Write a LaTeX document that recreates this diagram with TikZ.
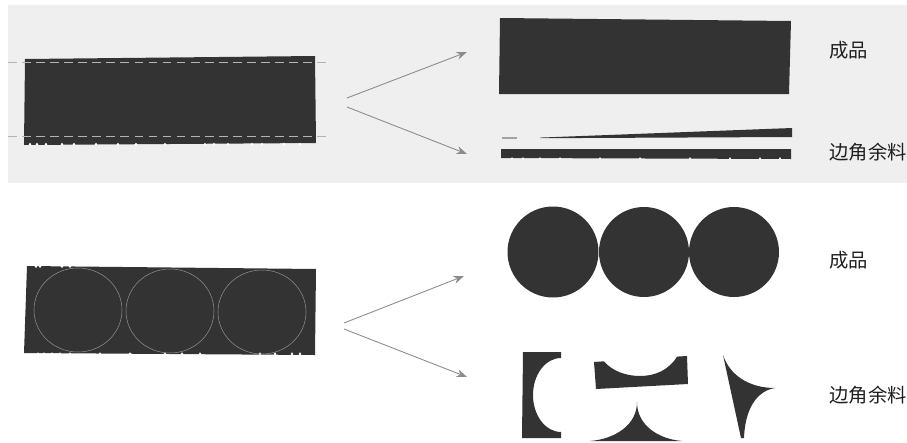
\documentclass[tikz,border=0pt]{standalone}
\usepackage{fontspec}
\newfontfamily\cjk{Noto Sans CJK SC}
\usetikzlibrary{arrows.meta}
\definecolor{ink}{HTML}{333333}
\definecolor{bgtop}{HTML}{EFEFEF}
\definecolor{arr}{HTML}{8C8C8C}
\definecolor{cutc}{HTML}{B4B4B4}
\begin{document}
\begin{tikzpicture}[x=0.02cm,y=-0.02cm,
  piece/.style={fill=ink},
  cutline/.style={draw=cutc, dashed, dash pattern=on 5pt off 3pt, line width=0.35pt},
  circcut/.style={draw=white!45!ink, line width=0.3pt},
  flow/.style={draw=arr, line width=0.5pt, -{Stealth[length=6pt,width=4.5pt]}},
  lab/.style={font=\cjk\fontsize{11}{13}\selectfont, anchor=west, inner sep=0pt, text=black!88},
  notch/.style={fill=white}]
\useasboundingbox (0,0) rectangle (907,443);
% top background
\fill[bgtop] (8,5) rectangle (907,183);

% ---------- top row ----------
\fill[piece] (25,59) -- (315,56) -- (316,143) -- (24,145) -- cycle;
\foreach \x in {30,37,46,62,74,96,118,136,165,205,214,228,252,262,284,300}
  \fill[notch] (\x,144.3) ellipse (1.3 and 1.6);
\draw[cutline] (8,62) -- (330,62);
\draw[cutline] (8,136) -- (330,136);

\coordinate (s1) at (347,98);
\coordinate (s2) at (347,107);
\coordinate (p1) at (467,52);
\coordinate (w1) at (467,154);
\draw[flow] (s1) -- (p1);
\draw[flow] (s2) -- (w1);

\fill[piece] (500,18) -- (791,21) -- (789,94) -- (499,94) -- cycle;
\draw[arr!80, line width=0.7pt] (502,138) -- (517,138);
\fill[piece] (540,137.6) -- (792,128) -- (792,137) -- (540,138.2) -- cycle;
\fill[piece] (501,149) -- (791,149) -- (791,159) -- (501,158) -- cycle;
\foreach \x in {512,523,540,560,600,640,690,730,760,780}
  \fill[notch] (\x,158.4) ellipse (1 and 1.2);

\node[lab] (t1) at (829,50) {成品};
\node[lab] (t2) at (829,152.5) {边角余料};

% ---------- bottom row ----------
\fill[piece] (27,266) -- (316,269) -- (315,355) -- (24,353) -- cycle;
\foreach \x in {38,44,52,60,70,100,130,165,182,200,260,275,292,300}
  \fill[notch] (\x,354) ellipse (1.4 and 1.6);
\foreach \x in {36,40,62,70}
  \fill[notch] (\x,266.5) ellipse (1.3 and 1.5);
\draw[circcut] (78,310) ellipse (44 and 42);
\draw[circcut] (170,311) ellipse (44 and 42);
\draw[circcut] (262,312) ellipse (44 and 42);

\coordinate (s3) at (344,323);
\coordinate (s4) at (344,329);
\coordinate (p2) at (464,276);
\coordinate (w2) at (467,377);
\draw[flow] (s3) -- (p2);
\draw[flow] (s4) -- (w2);

\fill[piece] (553,252) circle (45.5);
\fill[piece] (644,252) circle (45);
\fill[piece] (734,252) circle (45);

% scrap pieces
\fill[piece] (523,352) -- (561,352) -- (561,358)
  .. controls (545.5,358) and (533,374.6) .. (533,395)
  .. controls (533,415.4) and (545.5,432) .. (561,432)
  -- (561,438) -- (522,438) -- cycle;
\fill[piece] (594,362) -- (604,361.3)
  .. controls (612,371) and (626,376) .. (640,376)
  .. controls (655,376) and (669,370) .. (677,356.6)
  -- (687,356) -- (688,384) -- (596,389) -- cycle;
\fill[piece] (590,441) .. controls (615,439) and (637,425) .. (637,402)
  .. controls (637,425) and (658,439) .. (682,441) -- cycle;
\fill[piece] (723,355) .. controls (730,376) and (750,388) .. (775,388)
  .. controls (756,391) and (745,410) .. (744,438) -- (741,438) -- cycle;

\node[lab] (t3) at (829,260) {成品};
\node[lab] (t4) at (829,395) {边角余料};
\end{tikzpicture}
\end{document}
